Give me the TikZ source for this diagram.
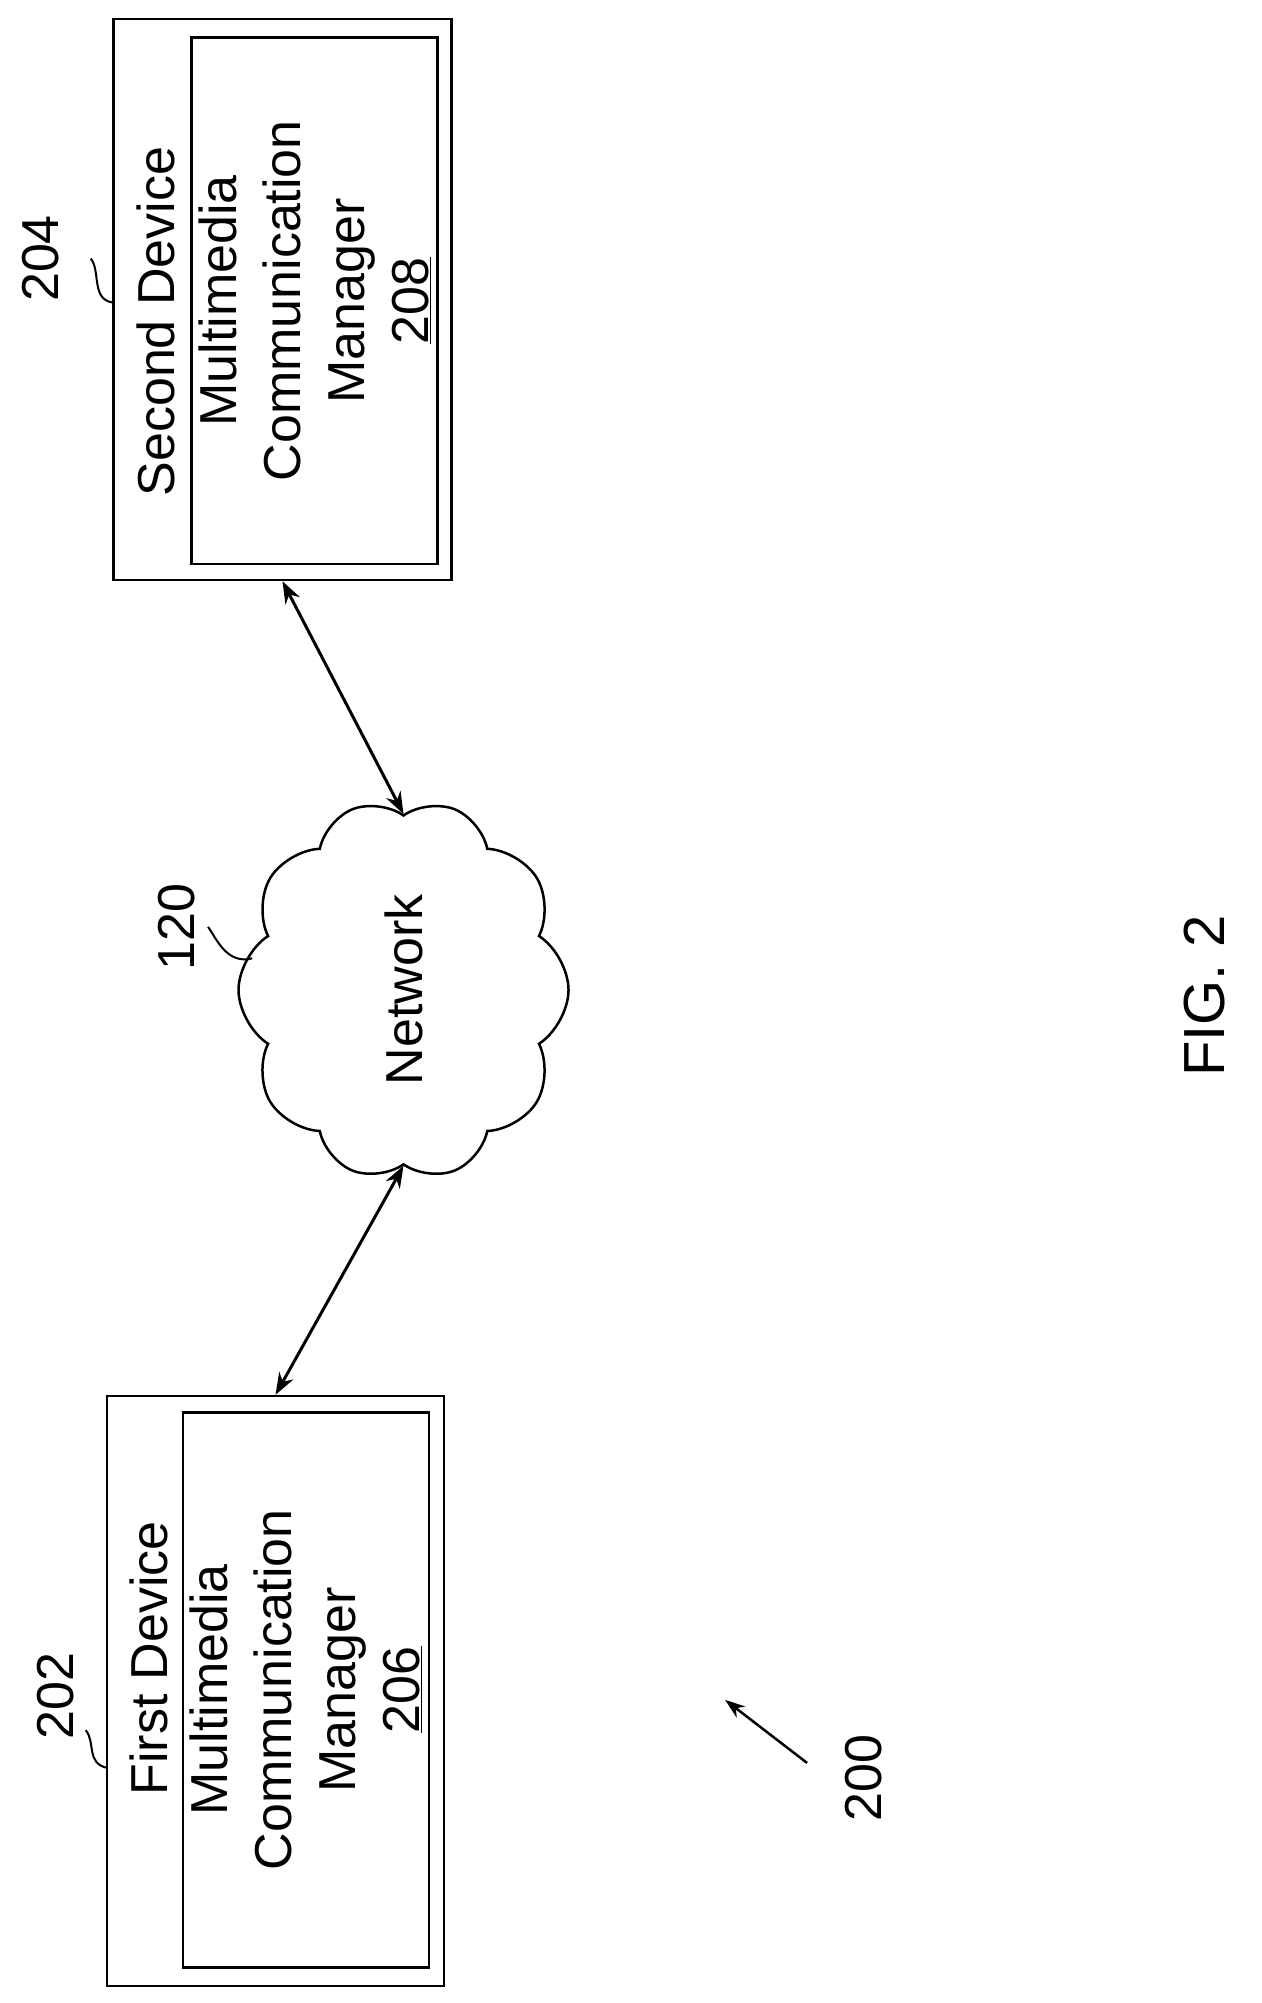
\documentclass[tikz,border=0pt]{standalone}
\usepackage{fontspec}
\setmainfont{Liberation Sans}
\usetikzlibrary{shapes.symbols,arrows.meta,positioning}
\tikzset{
    % Device frame style
    devbox/.style={
        rectangle, draw=black, line width=2.5pt, fill=white
    },
    % Inner manager box
    mgrbox/.style={
        rectangle, draw=black, line width=2.5pt,
        font=\fontsize{52}{64}\selectfont, align=center, rotate=90
    },
    % Label text
    lbl/.style={font=\fontsize{52}{64}\selectfont, rotate=90},
    % Connectors
    link/.style={line width=3pt, {Stealth[length=22pt,width=16pt]}-{Stealth[length=22pt,width=16pt]}},
    lead/.style={line width=2pt}
}
\begin{document}
\begin{tikzpicture}[x=1.261pt, y=-1.261pt]
\useasboundingbox (0,0) rectangle (1000,1588.4);

% Second device
\node[devbox, minimum width=338pt, minimum height=561pt] (second) at (224,237.5) {};
\node[mgrbox, minimum width=526pt, minimum height=246pt] (mgrB) at (249.5,238.5)
    {Multimedia\\Communication\\Manager\\\underline{208}};
\node[lbl] (secLbl) at (124,255) {Second Device};
\node[lbl] (n204) at (32,205) {204};

% First device
\node[devbox, minimum width=337pt, minimum height=590pt] (first) at (218.5,1341) {};
\node[mgrbox, minimum width=555pt, minimum height=246pt] (mgrA) at (242.5,1340)
    {Multimedia\\Communication\\Manager\\\underline{206}};
\node[lbl] (firstLbl) at (118,1315) {First Device};
\node[lbl] (n202) at (44,1345) {202};

% Network cloud
\node[cloud, draw=black, line width=2.5pt, cloud puffs=10, cloud puff arc=115, aspect=1.1,
    rotate=90, minimum width=380pt, minimum height=330pt,
    font=\fontsize{52}{64}\selectfont] (net) at (320,785) {Network};
\node[lbl] (n120) at (140,735) {120};

% Links
\draw[link] (second.south) -- (net.east);
\draw[link] (first.north) -- (net.west);

% Leaders
\draw[lead] (72,205) .. controls (80,215) and (72,238) .. (90,240);
\draw[lead] (68,1372) .. controls (76,1382) and (68,1398) .. (85,1402);
\draw[lead] (165,735) .. controls (172,745) and (180,765) .. (200,760);

% Figure reference
\node[lbl] (n200) at (685,1410) {200};
\coordinate (a200) at (640,1398);
\draw[line width=2.5pt, -{Stealth[length=20pt,width=14pt]}] (a200) -- (575,1348);
\node[lbl, font=\fontsize{58}{70}\selectfont] (fig) at (955,790) {FIG. 2};
\end{tikzpicture}
\end{document}
